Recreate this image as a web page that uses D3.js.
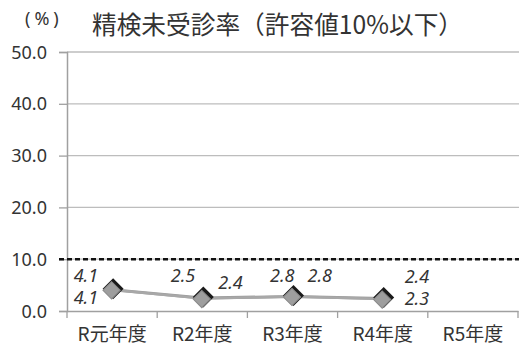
<!DOCTYPE html>
<html><head><meta charset="utf-8">
<script src="https://cdn.jsdelivr.net/npm/d3@7"></script>
<style>body{margin:0;background:#fff}svg{display:block}</style>
</head><body>
<svg id="c" width="521" height="351"></svg>
<script>
const categories = ["R元年度", "R2年度", "R3年度", "R4年度", "R5年度"];
const seriesA = [4.1, 2.5, 2.8, 2.4, null];
const seriesB = [4.1, 2.4, 2.8, 2.3, null];
const yTicks = [0, 10, 20, 30, 40, 50];
const threshold = 10;
const titleText = "精検未受診率（許容値10%以下）";
const unitText = "(%)";

// label placement (dx, dy, anchor) relative to marker
const layoutA = [[-14, -8, "end"], [-7, -16, "end"], [2, -14, "end"], [22, -16, "start"]];
const layoutB = [[-14, 14, "end"], [16, -10, "start"], [15, -14, "start"], [22, 6, "start"]];

const svg = d3.select("#c");
const L = 67, R = 518, T = 52, B = 311;
const x = d3.scaleBand().domain(categories).range([L, R]);
const y = d3.scaleLinear().domain([0, 50]).range([B, T]);
const font = "'Noto Sans', 'Noto Sans CJK JP', sans-serif";
const cjk = "'Noto Sans CJK JP', 'Noto Sans', sans-serif";

// gridlines
svg.append("g").selectAll("line").data(yTicks.filter(d => d > 0)).join("line")
  .attr("x1", L).attr("x2", R + 1).attr("y1", d => y(d)).attr("y2", d => y(d))
  .attr("stroke", "#bdbdbd").attr("stroke-width", 1.3);

// y axis
const yAxis = svg.append("g").attr("transform", `translate(${L},0)`)
  .call(d3.axisLeft(y).tickValues(yTicks).tickFormat(d3.format(".1f")).tickSize(8).tickPadding(12));
yAxis.select(".domain").attr("stroke", "#a0a0a0").attr("stroke-width", 1.5);
yAxis.selectAll(".tick line").attr("stroke", "#a0a0a0").attr("stroke-width", 1.3);
yAxis.selectAll("text").attr("font-family", font).attr("font-size", 18).attr("fill", "#333").attr("dy", "0.34em");

// x axis
const xAxis = svg.append("g").attr("transform", `translate(0,${B})`)
  .call(d3.axisBottom(x).tickSize(0).tickPadding(17));
xAxis.select(".domain").attr("stroke", "#a0a0a0").attr("stroke-width", 1.5);
xAxis.selectAll("text").attr("font-family", cjk).attr("font-size", 19).attr("fill", "#333");
svg.append("g").selectAll("line").data(d3.range(categories.length + 1)).join("line")
  .attr("x1", i => L + i * x.step()).attr("x2", i => L + i * x.step())
  .attr("y1", B).attr("y2", B + 7).attr("stroke", "#a0a0a0").attr("stroke-width", 1.3);

// threshold dashed line
svg.append("line").attr("x1", L - 8).attr("x2", R + 1)
  .attr("y1", y(threshold)).attr("y2", y(threshold))
  .attr("stroke", "#111").attr("stroke-width", 2.5).attr("stroke-dasharray", "5,3");

const cx = c => x(c) + x.bandwidth() / 2;
const line = d3.line().defined(d => d.v != null).x(d => cx(d.c)).y(d => y(d.v));
const dA = categories.map((c, i) => ({c, v: seriesA[i]}));
const dB = categories.map((c, i) => ({c, v: seriesB[i]}));

svg.append("path").datum(dA).attr("d", line).attr("fill", "none").attr("stroke", "#9c9c9c").attr("stroke-width", 3);
svg.append("path").datum(dB).attr("d", line).attr("fill", "none").attr("stroke", "#a8a8a8").attr("stroke-width", 2.5);

svg.append("g").selectAll("path").data(dA.filter(d => d.v != null)).join("path")
  .attr("d", d3.symbol().type(d3.symbolSquare).size(220))
  .attr("transform", d => `translate(${cx(d.c) + 1},${y(d.v) - 1}) rotate(45)`)
  .attr("fill", "#1a1a1a");
svg.append("g").selectAll("path").data(dB.filter(d => d.v != null)).join("path")
  .attr("d", d3.symbol().type(d3.symbolSquare).size(150))
  .attr("transform", d => `translate(${cx(d.c) - 0.5},${y(d.v) + 0.5}) rotate(45)`)
  .attr("fill", "#9e9e9e").attr("stroke", "#8a8a8a").attr("stroke-width", 1);

function labels(data, layout) {
  svg.append("g").selectAll("text").data(data.filter(d => d.v != null)).join("text")
    .attr("x", (d, i) => cx(d.c) + layout[i][0])
    .attr("y", (d, i) => y(d.v) + layout[i][1])
    .attr("text-anchor", (d, i) => layout[i][2])
    .attr("font-family", font).attr("font-style", "italic").attr("font-size", 18).attr("fill", "#333")
    .text(d => d3.format(".1f")(d.v));
}
labels(dA, layoutA);
labels(dB, layoutB);

// titles
svg.append("text").attr("x", 25).attr("y", 25)
  .attr("font-family", font).attr("font-size", 18).attr("fill", "#333")
  .attr("letter-spacing", 4).text(unitText);
svg.append("text").attr("x", 92).attr("y", 34)
  .attr("font-family", cjk).attr("font-size", 25).attr("fill", "#333")
  .attr("textLength", 371).attr("lengthAdjust", "spacingAndGlyphs").text(titleText);
</script>
</body></html>
